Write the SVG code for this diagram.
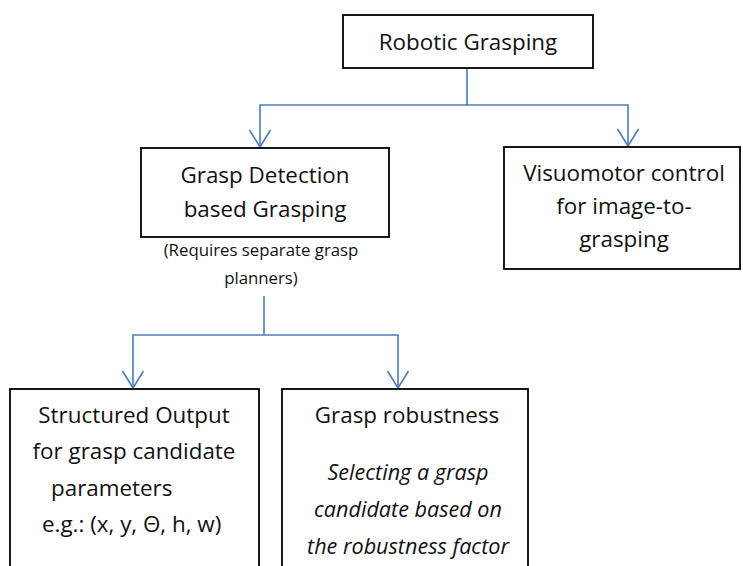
<svg xmlns="http://www.w3.org/2000/svg" width="743" height="566" viewBox="0 0 743 566">
<style>
.box{fill:#fff;stroke:#000;stroke-width:1.8}
.t{font-family:"Open Sans","Liberation Sans",sans-serif;font-size:22.4px;fill:#111;text-anchor:middle}
.s{font-family:"Open Sans","Liberation Sans",sans-serif;font-size:16.8px;fill:#111;text-anchor:middle}
.i{font-style:italic;font-size:21.6px}
.l{text-anchor:start}
.c{fill:none;stroke:#4a7ebb;stroke-width:1.6}
</style>
<defs>
<marker id="arr" markerUnits="userSpaceOnUse" markerWidth="22" markerHeight="26" refX="18" refY="12" orient="auto">
<path d="M1,1.5 L18,12 L1,22.5" fill="none" stroke="#4a7ebb" stroke-width="1.6"/>
</marker>
</defs>
<rect width="743" height="566" fill="#fff"/>
<g id="connectors">
<path class="c" d="M467,68 V105"/>
<path class="c" d="M467,105 H260 V147" marker-end="url(#arr)"/>
<path class="c" d="M467,105 H628 V146" marker-end="url(#arr)"/>
<path class="c" d="M264,296 V335"/>
<path class="c" d="M264,335 H133 V388" marker-end="url(#arr)"/>
<path class="c" d="M264,335 H398 V388" marker-end="url(#arr)"/>
</g>
<g id="robotic-grasping">
<rect class="box" x="343" y="15" width="250" height="53"/>
<text class="t" x="468" y="50">Robotic Grasping</text>
</g>
<g id="grasp-detection">
<rect class="box" x="141" y="148" width="248" height="89"/>
<text class="t" x="265" y="183">Grasp Detection</text>
<text class="t" x="265" y="217">based Grasping</text>
<text class="s" x="261" y="256">(Requires separate grasp</text>
<text class="s" x="261" y="284">planners)</text>
</g>
<g id="visuomotor">
<rect class="box" x="504" y="147" width="236" height="122"/>
<text class="t" x="624" y="181">Visuomotor control</text>
<text class="t" x="624" y="214">for image-to-</text>
<text class="t" x="624" y="247">grasping</text>
</g>
<g id="structured-output">
<rect class="box" x="10" y="389" width="249" height="200"/>
<text class="t" x="134" y="423">Structured Output</text>
<text class="t" x="134" y="459">for grasp candidate</text>
<text class="t l" x="51" y="496">parameters</text>
<text class="t l" x="42" y="532">e.g.: (x, y, Θ, h, w)</text>
</g>
<g id="grasp-robustness">
<rect class="box" x="282" y="389" width="246" height="200"/>
<text class="t" x="407" y="423">Grasp robustness</text>
<text class="t i" x="408" y="480">Selecting a grasp</text>
<text class="t i" x="408" y="517">candidate based on</text>
<text class="t i" x="408" y="554">the robustness factor</text>
</g>
</svg>
